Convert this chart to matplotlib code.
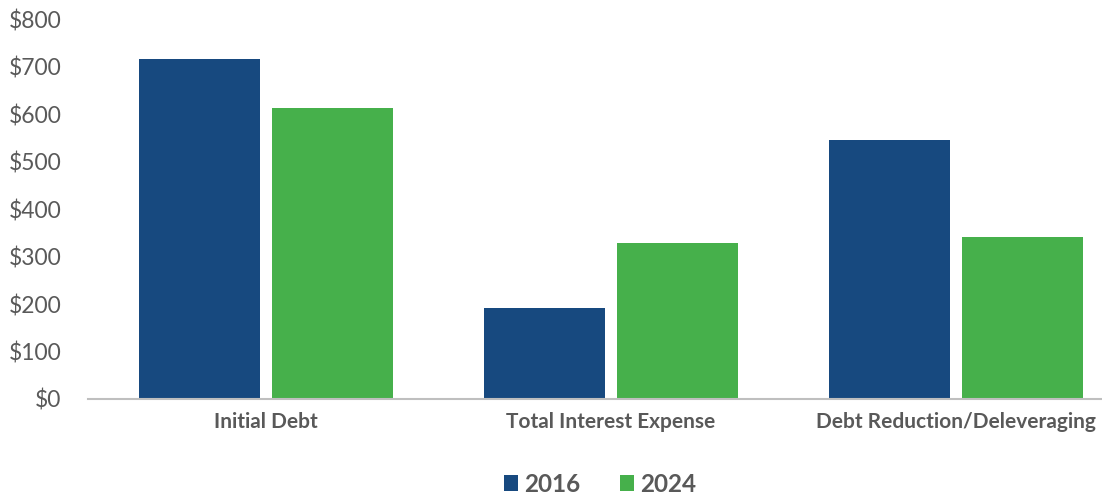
import matplotlib.pyplot as plt
import numpy as np

categories = ['Initial Debt', 'Total Interest Expense', 'Debt Reduction/Deleveraging']
values_2016 = [716, 192, 545]
values_2024 = [613, 328, 341]
yticks = [0, 100, 200, 300, 400, 500, 600, 700, 800]

blue = '#17497F'
green = '#46B04B'
grey = '#595959'

plt.rcParams['font.family'] = ['Lato', 'DejaVu Sans']

fig = plt.figure(figsize=(11.02, 4.97), dpi=100)
ax = fig.add_axes([88 / 1102, 1 - 399 / 497, 1 - 88 / 1102, (399 - 19.3) / 497])

x = np.arange(len(categories))
width = 0.35
offset = 0.193
ax.bar(x - offset, values_2016, width, color=blue, label='2016')
ax.bar(x + offset, values_2024, width, color=green, label='2024')

ax.set_xlim(-0.516, 2.423)
ax.set_ylim(0, 800)
ax.set_yticks(yticks, [f'${v}' for v in yticks])
ax.set_xticks(x, categories)

for side in ['top', 'right', 'left']:
    ax.spines[side].set_visible(False)
ax.spines['bottom'].set_color('#BFBFBF')
ax.spines['bottom'].set_linewidth(1.5)
ax.tick_params(axis='y', length=0, pad=19, labelsize=16.5, labelcolor=grey)
ax.tick_params(axis='x', length=0, pad=9, labelsize=15, labelcolor=grey)
for lbl in ax.get_xticklabels():
    lbl.set_fontweight('bold')

leg = fig.legend(loc='center', bbox_to_anchor=(600 / 1102, 1 - 484 / 497), ncol=2,
                 frameon=False, handlelength=0.6, handleheight=0.6, handletextpad=0.25,
                 columnspacing=1.6, prop={'weight': 'bold', 'size': 17.5})
for t in leg.get_texts():
    t.set_color(grey)

fig.savefig('out.png', dpi=100)
